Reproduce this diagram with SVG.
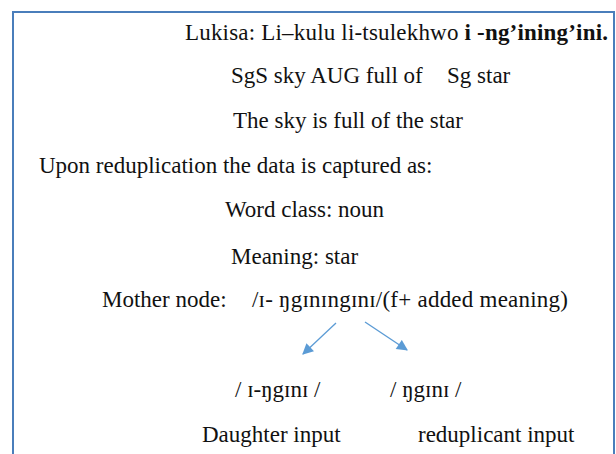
<svg xmlns="http://www.w3.org/2000/svg" width="616" height="454" viewBox="0 0 616 454">
<style>
text{font-family:"Liberation Serif","Times New Roman",serif;font-size:23px;fill:#111}
.b{font-weight:bold}
.conn{stroke:#5b9bd5;stroke-width:1.3;fill:none}
</style>
<defs>
<marker id="ah" viewBox="0 0 10 10" refX="9" refY="5" markerWidth="12" markerHeight="11" markerUnits="userSpaceOnUse" orient="auto">
<path d="M0,0 L10,5 L0,10 z" fill="#5b9bd5"/>
</marker>
</defs>
<rect width="616" height="454" fill="#fff"/>
<rect id="frame" x="13" y="12" width="601" height="470" fill="none" stroke="#4a7ebb" stroke-width="2"/>
<g id="line-lukisa"><text x="185" y="40" textLength="423" lengthAdjust="spacing">Lukisa: Li–kulu li-tsulekhwo <tspan class="b">i -ng’ining’ini.</tspan></text></g>
<g id="line-gloss"><text x="231" y="83">SgS sky AUG full of<tspan x="447">Sg star</tspan></text></g>
<g id="line-translation"><text x="233" y="128">The sky is full of the star</text></g>
<g id="line-upon"><text x="39" y="173">Upon reduplication the data is captured as:</text></g>
<g id="line-wordclass"><text x="225" y="217">Word class: noun</text></g>
<g id="line-meaning"><text x="231" y="264">Meaning: star</text></g>
<g id="node-mother"><text x="102" y="307">Mother node:</text><text x="252" y="307" textLength="316" lengthAdjust="spacing">/ɪ- ŋgɪnɪngɪnɪ/(f+ added meaning)</text></g>
<g id="node-daughter"><text x="235" y="397">/ ɪ-ŋgɪnɪ /</text><text x="202" y="442">Daughter input</text></g>
<g id="node-reduplicant"><text x="390" y="397">/ ŋgɪnɪ /</text><text x="418" y="442">reduplicant input</text></g>
<g id="connectors">
<line class="conn" x1="336" y1="323" x2="303" y2="354" marker-end="url(#ah)"/>
<line class="conn" x1="365" y1="322" x2="407" y2="350" marker-end="url(#ah)"/>
</g>
</svg>
